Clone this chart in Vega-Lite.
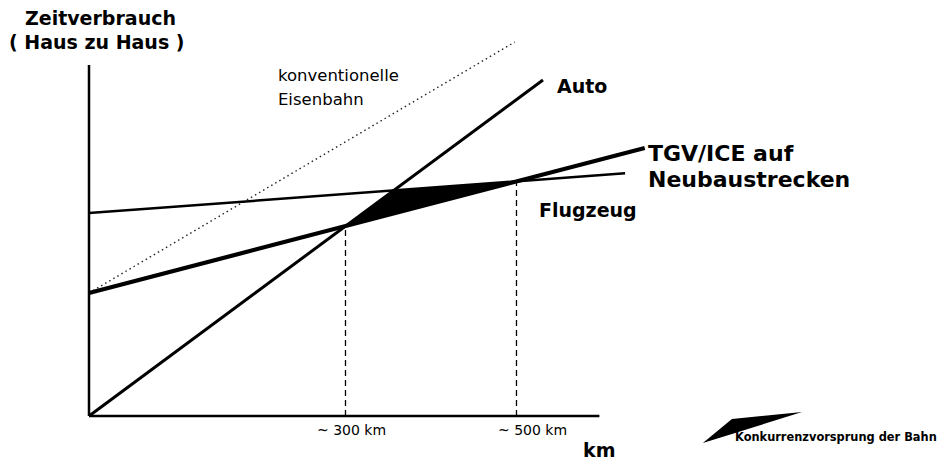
{
  "$schema": "https://vega.github.io/schema/vega-lite/v6.json",
  "width": 952,
  "height": 463,
  "padding": 0,
  "autosize": {"type": "none"},
  "background": "white",
  "config": {"view": {"stroke": null}},
  "datasets": {
    "axes": [
      {"part": "yaxis", "x": 0, "y": 0},
      {"part": "yaxis", "x": 0, "y": 351},
      {"part": "xaxis", "x": 0, "y": 0},
      {"part": "xaxis", "x": 597, "y": 0}
    ],
    "lines": [
      {"series": "Auto", "x": 0, "y": 0},
      {"series": "Auto", "x": 531, "y": 336},
      {"series": "Eisenbahn", "x": 0, "y": 123},
      {"series": "Eisenbahn", "x": 498, "y": 374},
      {"series": "TGV", "x": 0, "y": 123},
      {"series": "TGV", "x": 650, "y": 268},
      {"series": "Flugzeug", "x": 0, "y": 203},
      {"series": "Flugzeug", "x": 627, "y": 242.7}
    ],
    "advantage": [
      {"x": 300, "y": 190, "y2": 190},
      {"x": 356.2, "y": 202.5, "y2": 225.6},
      {"x": 500, "y": 234.7, "y2": 234.7}
    ],
    "legendshape": [
      {"x": 718, "y": -27, "y2": -27},
      {"x": 752, "y": -18, "y2": -3},
      {"x": 834, "y": 4, "y2": 4}
    ],
    "markers": [
      {"x": 300, "y": 0, "y2": 190},
      {"x": 500, "y": 0, "y2": 234.7}
    ],
    "labels": [
      {"role": "title", "x": -74.9, "y": 391, "label": "Zeitverbrauch"},
      {"role": "title", "x": -93.6, "y": 367, "label": "( Haus zu Haus )"},
      {"role": "plain", "x": 221, "y": 335, "label": "konventionelle\nEisenbahn"},
      {"role": "mode", "x": 547.4, "y": 323, "label": "Auto"},
      {"role": "big", "x": 653.8, "y": 255, "label": "TGV/ICE auf\nNeubaustrecken"},
      {"role": "mode", "x": 526.3, "y": 199, "label": "Flugzeug"},
      {"role": "tick", "x": 266.7, "y": -19, "label": "~ 300 km"},
      {"role": "tick", "x": 478.4, "y": -19, "label": "~ 500 km"},
      {"role": "mode", "x": 577.8, "y": -41, "label": "km"},
      {"role": "legend", "x": 755.6, "y": -25, "label": "Konkurrenzvorsprung der Bahn"}
    ]
  },
  "encoding": {
    "x": {"field": "x", "type": "quantitative", "scale": {"domain": [-104.1, 1009.4], "nice": false, "zero": false}, "axis": null},
    "y": {"field": "y", "type": "quantitative", "scale": {"domain": [-47, 416], "nice": false, "zero": false}, "axis": null}
  },
  "layer": [
    {
      "data": {"name": "advantage"},
      "mark": {"type": "area", "color": "black", "opacity": 1, "clip": false},
      "encoding": {"y2": {"field": "y2"}}
    },
    {
      "data": {"name": "legendshape"},
      "mark": {"type": "area", "color": "black", "opacity": 1, "clip": false},
      "encoding": {"y2": {"field": "y2"}}
    },
    {
      "data": {"name": "markers"},
      "mark": {"type": "rule", "color": "black", "strokeWidth": 1.3, "strokeDash": [6, 4]},
      "encoding": {"y2": {"field": "y2"}}
    },
    {
      "data": {"name": "axes"},
      "mark": {"type": "line", "color": "black", "strokeWidth": 2.5, "strokeCap": "butt"},
      "encoding": {"detail": {"field": "part"}}
    },
    {
      "data": {"name": "lines"},
      "transform": [{"filter": "datum.series === 'Eisenbahn'"}],
      "mark": {"type": "line", "color": "#222222", "strokeWidth": 1.4, "strokeDash": [1.5, 3.2]},
      "encoding": {}
    },
    {
      "data": {"name": "lines"},
      "transform": [{"filter": "datum.series === 'Auto'"}],
      "mark": {"type": "line", "color": "black", "strokeWidth": 3},
      "encoding": {}
    },
    {
      "data": {"name": "lines"},
      "transform": [{"filter": "datum.series === 'Flugzeug'"}],
      "mark": {"type": "line", "color": "black", "strokeWidth": 2.5},
      "encoding": {}
    },
    {
      "data": {"name": "lines"},
      "transform": [{"filter": "datum.series === 'TGV'"}],
      "mark": {"type": "line", "color": "black", "strokeWidth": 4.2},
      "encoding": {}
    },
    {
      "data": {"name": "labels"},
      "transform": [{"filter": "datum.role === 'title'"}],
      "mark": {"type": "text", "align": "left", "baseline": "alphabetic", "font": "DejaVu Sans", "fontWeight": "bold", "fontSize": 19, "color": "black"},
      "encoding": {"text": {"field": "label"}}
    },
    {
      "data": {"name": "labels"},
      "transform": [{"filter": "datum.role === 'plain'"}],
      "mark": {"type": "text", "align": "left", "baseline": "alphabetic", "font": "DejaVu Sans", "fontSize": 16.5, "lineBreak": "\n", "lineHeight": 24, "color": "black"},
      "encoding": {"text": {"field": "label"}}
    },
    {
      "data": {"name": "labels"},
      "transform": [{"filter": "datum.role === 'mode'"}],
      "mark": {"type": "text", "align": "left", "baseline": "alphabetic", "font": "DejaVu Sans", "fontWeight": "bold", "fontSize": 19, "color": "black"},
      "encoding": {"text": {"field": "label"}}
    },
    {
      "data": {"name": "labels"},
      "transform": [{"filter": "datum.role === 'big'"}],
      "mark": {"type": "text", "align": "left", "baseline": "alphabetic", "font": "DejaVu Sans", "fontWeight": "bold", "fontSize": 22, "lineBreak": "\n", "lineHeight": 25.7, "color": "black"},
      "encoding": {"text": {"field": "label"}}
    },
    {
      "data": {"name": "labels"},
      "transform": [{"filter": "datum.role === 'tick'"}],
      "mark": {"type": "text", "align": "left", "baseline": "alphabetic", "font": "DejaVu Sans", "fontSize": 14, "color": "black"},
      "encoding": {"text": {"field": "label"}}
    },
    {
      "data": {"name": "labels"},
      "transform": [{"filter": "datum.role === 'legend'"}],
      "mark": {"type": "text", "align": "left", "baseline": "alphabetic", "font": "DejaVu Sans", "fontWeight": "bold", "fontSize": 11.4, "color": "black"},
      "encoding": {"text": {"field": "label"}}
    }
  ]
}
